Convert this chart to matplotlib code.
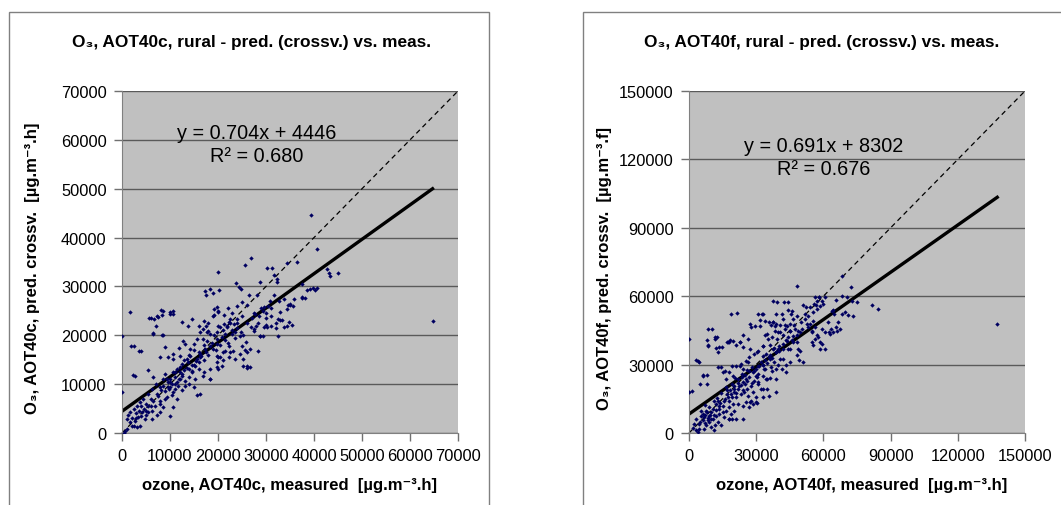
import numpy as np
import matplotlib
matplotlib.use("Agg")
import matplotlib.pyplot as plt
from matplotlib.patches import Rectangle

plt.rcParams['font.family'] = ['Liberation Sans', 'DejaVu Sans']

# AOT40c (left) - measured / predicted, in thousands of ug.m-3.h
pts_c = [
    (64.7, 22.9), (39.4, 44.7), (40.6, 37.6), (26.9, 35.9), (25.7, 34.3), (30.2, 33.8),
    (31.3, 33.8), (20.1, 32.9), (34.4, 34.7), (36.5, 34.9), (31.6, 32.3), (32.2, 31.6),
    (32.3, 31.0), (42.7, 33.6), (43.1, 32.8), (44.9, 32.8), (43.3, 32.1), (23.8, 30.7),
    (24.3, 29.8), (28.8, 31.0), (17.2, 29.0), (18.4, 29.5), (20.3, 29.3), (37.5, 30.4),
    (39.2, 29.5), (39.8, 29.6), (1.7, 24.8), (8.2, 25.1), (10.1, 24.8), (10.1, 24.4),
    (7.3, 23.9), (6.6, 23.4), (5.7, 23.5), (1.9, 17.9), (3.6, 16.8), (6.4, 20.3),
    (8.3, 20.0), (0.0, 19.8), (2.3, 11.8), (0.0, 8.4), (24.7, 29.5), (28.1, 28.2),
    (26.4, 28.3), (25.0, 26.8), (26.0, 26.3), (35.8, 27.5), (37.5, 27.8), (31.6, 28.2),
    (32.8, 27.1), (33.7, 27.5), (34.5, 26.1), (35.1, 26.5), (34.4, 25.4), (33.0, 24.8),
    (33.3, 23.1), (34.7, 22.7), (33.7, 21.7), (32.4, 23.3), (32.0, 21.4), (32.4, 19.8),
    (29.9, 22.2), (29.5, 21.7), (30.2, 21.7), (26.9, 21.7), (27.6, 21.2), (28.7, 19.8),
    (19.1, 25.4), (19.8, 25.8), (20.1, 24.8), (19.1, 24.1), (21.2, 24.1), (22.6, 23.4),
    (22.2, 22.7), (21.2, 22.4), (21.9, 21.7), (23.3, 22.4), (24.0, 23.4), (24.0, 21.4),
    (17.7, 20.7), (18.3, 20.3), (19.1, 20.0), (19.8, 19.3), (22.9, 20.3), (23.6, 19.4),
    (24.7, 20.7), (25.3, 20.0), (25.0, 17.9), (25.6, 16.9), (26.0, 16.6), (25.2, 13.7),
    (26.0, 13.8), (23.5, 15.2), (22.6, 16.6), (20.5, 15.6), (21.0, 14.9), (22.2, 15.6),
    (19.8, 13.5), (20.1, 13.2), (20.8, 13.8), (18.3, 11.1), (15.6, 7.8), (29.0, 25.5),
    (30.5, 26.0), (28.5, 24.0), (27.5, 24.5), (30.0, 23.5), (29.3, 25.0), (31.0, 25.5),
    (22.0, 25.5), (27.8, 24.4), (29.5, 25.8), (30.9, 27.1), (16.3, 15.6),
    (6.0, 23.5), (7.6, 23.7), (8.3, 24.2), (8.6, 25.0), (10.6, 25.0), (10.7, 24.4),
    (6.5, 20.5), (7.1, 21.8), (8.6, 20.1), (12.6, 22.8), (13.8, 21.8),
    (2.4, 17.9), (4.0, 16.8), (2.7, 11.6), (5.5, 12.8), (6.5, 11.4), (7.9, 15.5),
    (9.0, 17.7), (9.6, 15.5), (10.7, 15.1), (11.9, 17.5), (12.8, 18.9), (13.1, 18.2),
    (14.2, 17.2), (14.9, 18.2), (15.6, 19.2), (16.3, 20.6), (16.8, 21.3), (17.5, 21.9),
    (18.0, 20.9), (16.9, 19.2), (17.8, 18.9), (18.3, 17.9), (19.0, 17.2), (19.7, 18.2),
    (20.8, 19.6), (21.5, 20.3), (21.8, 21.9), (22.5, 22.6), (23.9, 22.6), (23.5, 20.6),
    (24.6, 19.9), (25.8, 18.6), (26.7, 17.2), (26.0, 13.4), (26.7, 13.6), (28.4, 16.8),
    (29.4, 19.9), (31.1, 21.9), (32.1, 22.6), (32.9, 23.2), (34.3, 21.9), (35.4, 22.2),
    (35.7, 25.9), (35.0, 26.3), (37.4, 27.6), (38.1, 27.6), (38.5, 29.3), (40.2, 29.3),
    (40.6, 29.6), (30.1, 24.6), (31.1, 23.9), (28.3, 22.6), (27.6, 20.9), (28.7, 19.9),
    (25.2, 15.1), (24.6, 16.1), (23.2, 16.8), (22.2, 17.9), (21.4, 16.8), (20.0, 15.5),
    (19.7, 14.5), (18.3, 13.1), (18.3, 11.1), (16.3, 8.0), (16.9, 11.7), (14.5, 12.7),
    (15.2, 13.8), (13.5, 13.4), (12.4, 14.1), (11.4, 13.1), (10.7, 12.4), (10.0, 11.1),
    (9.3, 11.1), (8.6, 9.7), (8.1, 8.7), (7.2, 8.0), (6.2, 9.0), (5.5, 8.0),
    (4.4, 7.0), (3.8, 6.3), (3.1, 5.6), (2.4, 4.9), (1.7, 4.2), (1.3, 3.6),
    (1.0, 2.9), (1.7, 2.2), (2.4, 1.5), (3.1, 1.15), (3.8, 1.5), (4.8, 2.9),
    (5.5, 4.2), (6.2, 4.6), (6.9, 5.6), (7.9, 6.6), (8.6, 5.3), (10.0, 3.5),
    (10.7, 5.3), (11.4, 7.0), (10.4, 7.7), (9.3, 7.3), (7.9, 4.2), (7.2, 3.6),
    (6.2, 2.9), (5.1, 3.6), (4.1, 4.2), (3.4, 3.2), (2.7, 2.5), (2.0, 1.5),
    (1.1, 0.8), (0.6, 0.5), (0.4, 0.1), (11.9, 11.1), (12.5, 11.7), (13.2, 10.7),
    (13.9, 11.4), (14.6, 12.4), (15.3, 11.1), (13.2, 9.7), (11.7, 9.7), (12.4, 8.7),
    (11.0, 10.0), (9.7, 9.0), (10.7, 8.3), (13.5, 15.1), (14.2, 15.8), (12.1, 15.8),
    (10.7, 16.1), (15.6, 15.1), (16.3, 16.1), (17.3, 17.2), (19.7, 15.8), (21.1, 16.5),
    (19.7, 20.6), (20.4, 21.6), (19.0, 24.0), (20.0, 25.0), (17.6, 28.3), (19.0, 28.6),
    (14.5, 23.4), (15.0, 14.0), (16.0, 14.5), (17.0, 15.0), (14.0, 13.0), (12.0, 12.5),
    (11.0, 11.5), (9.5, 10.5), (8.0, 9.5), (5.0, 6.0), (4.5, 5.0), (3.5, 4.5),
    (3.0, 3.0), (4.0, 3.5), (5.0, 4.5), (6.0, 5.5), (6.5, 6.5), (7.5, 7.5),
    (8.0, 6.0), (9.0, 8.5), (9.5, 9.5), (10.5, 10.0), (11.5, 10.5), (12.5, 12.0),
    (13.0, 12.8), (13.8, 14.5), (14.5, 14.0), (15.5, 14.8), (16.0, 16.5), (16.5, 15.8),
    (17.5, 16.5), (18.0, 16.0), (18.8, 18.5), (19.5, 17.0), (20.5, 18.0), (21.5, 19.0),
    (22.0, 18.5), (23.0, 21.0), (11.0, 12.5), (12.0, 11.0), (10.0, 10.5), (9.0, 12.0),
    (8.5, 11.0), (7.0, 10.0), (6.0, 7.0), (5.5, 5.5), (4.0, 5.5), (3.0, 4.0),
    (2.0, 3.0), (14.0, 16.0), (15.0, 17.0), (17.0, 18.0), (16.0, 13.0), (17.0, 12.5),
    (13.0, 15.0), (12.0, 13.5), (11.0, 9.0), (10.0, 9.5), (9.0, 7.0), (15.0, 9.5),
    (14.0, 10.0), (20.0, 22.0), (21.0, 21.0), (23.0, 24.5), (24.0, 26.0), (18.0, 22.5),
    (17.0, 23.0), (16.0, 22.0), (25.0, 24.0), (26.0, 22.5), (27.0, 23.5), (28.0, 22.0),
]

# AOT40f (right)
pts_f = [
    (137.6, 48.0), (81.5, 56.3), (84.5, 54.5), (48.4, 64.5), (68.4, 68.9), (72.2, 64.0),
    (72.9, 57.9), (70.8, 51.6), (68.1, 59.9), (65.8, 58.2), (64.4, 53.8), (64.6, 52.3),
    (63.6, 45.8), (64.4, 44.3), (65.5, 46.5), (62.6, 44.3), (58.7, 37.0), (60.6, 44.3),
    (56.2, 59.6), (57.2, 57.7), (55.7, 56.7), (58.1, 59.6), (56.6, 56.0), (50.9, 56.0),
    (52.4, 55.3), (51.7, 52.3), (55.4, 53.1), (53.9, 48.0), (53.2, 46.5), (54.7, 44.3),
    (56.2, 41.4), (55.4, 38.5), (54.7, 39.9), (57.2, 42.8), (44.2, 53.8), (45.7, 52.3),
    (46.5, 50.1), (45.0, 48.0), (47.2, 45.8), (48.0, 42.8), (48.7, 37.0), (48.4, 34.1),
    (49.2, 31.9), (46.5, 39.9), (49.5, 44.3), (37.5, 57.7), (42.3, 57.5), (39.0, 52.3),
    (35.8, 48.7), (36.8, 47.3), (39.0, 48.0), (42.0, 50.1), (42.7, 47.3), (39.7, 44.3),
    (42.0, 42.8), (43.4, 40.6), (44.2, 37.0), (43.4, 29.7), (43.4, 26.8), (39.0, 23.8),
    (39.7, 29.7), (39.0, 35.5), (36.1, 38.5), (33.8, 42.8), (30.8, 52.3), (31.6, 49.4),
    (27.1, 48.0), (27.9, 46.5), (24.1, 42.8), (26.4, 41.4), (22.6, 39.9), (18.9, 52.3),
    (21.2, 38.5), (8.2, 40.9), (11.5, 41.4), (8.5, 45.8), (12.2, 37.3), (13.0, 35.5),
    (11.5, 42.1), (18.2, 40.6), (17.4, 39.9), (0.0, 41.1), (0.0, 18.0), (3.0, 31.9),
    (6.3, 25.3), (4.8, 21.6), (24.1, 6.3), (28.6, 12.9), (25.6, 13.6), (17.7, 6.0),
    (33.1, 19.4), (34.6, 23.8), (33.1, 29.7),
    (8.3, 38.6), (13.5, 37.6), (17.7, 39.8), (4.6, 31.3), (1.3, 18.6), (7.9, 25.4),
    (14.3, 28.8), (15.0, 26.6), (18.0, 26.6), (19.5, 25.1), (16.5, 23.7), (21.0, 29.5),
    (23.2, 30.3), (24.0, 28.1), (25.4, 31.7), (27.0, 33.2), (29.2, 34.7), (30.7, 36.1),
    (32.9, 38.3), (34.4, 34.7), (35.9, 33.2), (37.3, 36.9), (38.8, 35.4), (40.3, 38.3),
    (41.8, 36.9), (28.4, 26.6), (29.9, 25.1), (26.9, 27.3), (31.4, 29.5), (33.6, 28.1),
    (36.6, 28.8), (38.8, 28.1), (41.8, 32.5), (13.5, 12.0), (15.8, 14.2), (17.3, 15.6),
    (18.8, 17.1), (20.2, 19.3), (22.5, 20.8), (24.0, 22.2), (25.4, 23.7), (27.7, 20.8),
    (29.2, 22.9), (30.7, 21.5), (32.1, 19.3), (34.4, 23.7), (21.0, 15.6), (23.2, 17.1),
    (24.7, 17.8), (26.2, 16.4), (27.7, 14.2), (29.9, 15.6), (18.0, 11.2), (16.5, 9.8),
    (19.5, 12.7), (21.7, 12.7), (24.0, 12.0), (26.9, 11.2), (29.9, 13.4), (32.9, 15.6),
    (35.9, 16.4), (38.8, 17.8), (20.2, 9.8), (3.1, 6.2), (4.6, 4.0), (6.1, 5.5),
    (7.6, 3.3), (9.1, 4.7), (10.6, 6.2), (12.1, 7.6), (13.5, 8.3), (15.0, 9.1),
    (6.1, 8.3), (7.6, 9.8), (9.1, 11.2), (10.6, 10.5), (12.1, 12.7), (13.5, 10.5),
    (4.6, 1.8), (3.1, 1.1), (6.8, 1.8), (9.8, 2.6), (12.8, 4.7), (15.8, 6.9),
    (18.0, 6.2), (14.3, 3.3), (11.3, 1.1), (2.4, 4.0), (5.4, 7.3), (8.3, 6.5),
    (1.6, 2.0), (3.9, 0.3), (21.0, 6.2), (18.8, 8.3), (58.2, 59.8), (60.7, 59.8),
    (59.2, 58.0), (60.0, 56.6), (58.5, 55.9), (57.0, 54.4), (54.0, 55.1), (53.3, 51.5),
    (55.5, 49.3), (52.5, 47.8), (48.1, 51.5), (45.8, 53.7), (44.4, 57.3), (39.4, 57.6),
    (41.4, 52.2), (37.6, 48.8), (38.4, 46.8), (40.6, 47.4), (34.7, 43.4), (33.9, 49.3),
    (32.4, 52.2), (33.2, 38.3), (36.9, 41.9), (42.9, 45.6), (45.1, 44.9), (48.8, 44.9),
    (50.3, 45.6), (54.8, 44.9), (56.2, 46.3), (59.2, 45.6), (63.0, 43.4), (67.4, 45.6),
    (66.7, 48.5), (68.2, 52.2), (63.7, 53.7), (62.2, 48.5), (69.6, 52.9), (70.4, 59.5),
    (74.9, 57.3), (73.4, 51.5), (65.9, 44.9), (57.7, 41.9), (59.2, 39.0), (60.7, 36.8),
    (58.5, 39.7), (21.3, 52.6), (32.9, 52.2), (29.5, 46.9), (31.7, 46.9), (37.7, 48.5),
    (38.4, 44.9), (40.6, 44.1), (43.6, 46.9), (45.1, 44.9), (35.4, 41.2), (39.1, 41.2),
    (43.6, 40.5), (46.6, 42.7), (48.1, 39.8), (39.9, 36.8), (45.1, 36.8), (49.6, 36.1),
    (51.0, 31.0), (45.1, 31.0), (40.6, 32.5), (36.2, 32.5), (33.2, 33.9), (30.2, 35.4),
    (27.2, 36.8), (24.3, 37.6), (22.8, 39.8), (19.8, 40.5), (16.8, 39.8), (14.6, 37.6),
    (12.4, 41.9), (10.1, 45.6), (8.6, 38.3), (4.2, 31.7), (6.4, 25.1), (7.9, 21.4),
    (13.1, 28.8), (16.1, 27.3), (19.1, 29.5), (22.8, 29.5), (26.5, 31.0), (31.0, 29.5),
    (34.0, 28.1), (36.9, 27.3), (41.4, 28.1), (30.2, 24.4), (34.7, 19.3), (27.2, 13.5),
    (30.2, 13.2), (19.1, 6.1), (22.0, 22.0), (25.0, 25.5), (28.0, 29.0), (20.0, 20.5),
    (23.5, 24.5), (26.0, 27.5), (17.0, 19.0), (11.0, 14.0), (9.5, 8.0), (7.0, 12.5),
    (5.0, 5.0), (6.5, 7.0), (8.0, 9.0), (9.0, 7.5), (10.0, 9.0), (11.0, 8.0),
    (12.0, 10.0), (13.0, 14.0), (14.0, 13.0), (15.0, 12.0), (16.0, 15.0), (17.0, 17.0),
    (18.0, 14.0), (19.0, 16.0), (20.0, 18.0), (21.0, 17.5), (22.0, 19.5), (23.0, 21.0),
    (24.0, 19.0), (25.0, 21.5), (26.0, 23.0), (27.0, 24.5), (28.0, 22.0), (29.0, 27.0),
    (30.0, 28.0), (31.0, 26.0), (32.0, 31.0), (33.0, 30.0), (34.0, 32.0), (35.0, 30.5),
    (36.0, 34.0), (37.0, 33.0), (38.0, 37.5), (40.0, 36.0), (42.0, 39.0), (44.0, 42.0),
    (46.0, 41.0), (47.0, 47.5), (50.0, 48.5), (52.0, 50.0), (7.0, 4.5), (8.5, 5.5),
    (10.0, 6.0), (11.5, 3.5), (5.5, 9.5), (7.0, 8.0), (12.5, 15.5), (14.5, 17.5),
    (16.5, 20.0), (19.0, 21.5), (20.5, 24.0), (22.0, 23.5), (23.5, 26.0), (18.5, 19.0),
    (26.0, 19.5), (28.5, 18.0), (31.0, 22.5), (33.0, 25.0), (36.0, 24.0), (38.0, 31.0),
]

slopes = [0.704, 0.691]
intercepts = [4446, 8302]
r2 = [0.680, 0.676]

titles = ["O₃, AOT40c, rural - pred. (crossv.) vs. meas.",
          "O₃, AOT40f, rural - pred. (crossv.) vs. meas."]
xlabels = ["ozone, AOT40c, measured  [µg.m⁻³.h]",
           "ozone, AOT40f, measured  [µg.m⁻³.h]"]
ylabels = ["O₃, AOT40c, pred. crossv.  [µg.m⁻³.h]",
           "O₃, AOT40f, pred. crossv.  [µg.m⁻³.f]"]
axis_max = [70000, 150000]
tick_step = [10000, 30000]
eq_pos = [(28100, 61600, 56900), (60300, 126300, 116200)]

W, H = 1061, 506
fig = plt.figure(figsize=(W / 100, H / 100), dpi=100)

# chart frames
fig.patches.append(Rectangle((9 / W, -0.1), 480 / W, 1.1 - 13 / H, transform=fig.transFigure,
                             fill=False, edgecolor='#808080', lw=1))
fig.patches.append(Rectangle((583 / W, -0.1), 0.5, 1.1 - 13 / H, transform=fig.transFigure,
                             fill=False, edgecolor='#808080', lw=1))

ax_left = [122 / W, 689 / W]
title_x = [251 / W, 822 / W]
xlab_x = [0.5, 0.515]
ylab_x = [-0.245, -0.228]

for k, pts in enumerate([pts_c, pts_f]):
    arr = np.array(pts) * 1000
    x, y = arr[:, 0], arr[:, 1]
    ax = fig.add_axes([ax_left[k], 1 - 434 / H, 336 / W, 342 / H])
    ax.set_facecolor('#C0C0C0')
    m = axis_max[k]
    ax.set_xlim(0, m)
    ax.set_ylim(0, m)
    ticks = np.arange(0, m + 1, tick_step[k])
    ax.set_xticks(ticks)
    ax.set_yticks(ticks)
    ax.set_xticklabels([str(t) for t in ticks])
    ax.set_yticklabels([str(t) for t in ticks])
    ax.yaxis.grid(True, color='#5a5a5a', lw=1)
    ax.set_axisbelow(True)
    for s in ['top', 'right']:
        ax.spines[s].set_visible(False)
    for s in ['left', 'bottom']:
        ax.spines[s].set_color('#808080')
    ax.tick_params(direction='out', length=6, width=1, color='#707070',
                   labelsize=11.8, pad=5)

    # 1:1 line
    ax.plot([0, m], [0, m], color='black', lw=0.9, ls=(0, (4, 3)), clip_on=False)
    # regression line
    xr = np.array([0, x.max()])
    ax.plot(xr, slopes[k] * xr + intercepts[k], color='black', lw=2.4)
    ax.scatter(x, y, s=5, marker='D', color='#000060', lw=0, zorder=3)

    ex, ey1, ey2 = eq_pos[k]
    ax.text(ex, ey1, f"y = {slopes[k]:.3f}x + {intercepts[k]}", ha='center', va='center',
            fontsize=14.3)
    ax.text(ex, ey2, f"R² = {r2[k]:.3f}", ha='center', va='center', fontsize=14.3)

    ax.set_xlabel(xlabels[k], fontsize=12, fontweight='bold')
    ax.xaxis.set_label_coords(xlab_x[k], -0.128)
    ax.set_ylabel(ylabels[k], fontsize=12, fontweight='bold')
    ax.yaxis.set_label_coords(ylab_x[k], 0.485)
    fig.text(title_x[k], 1 - 42 / H, titles[k], ha='center', va='center',
             fontsize=12.4, fontweight='bold')

fig.savefig('out.png', dpi=100)
